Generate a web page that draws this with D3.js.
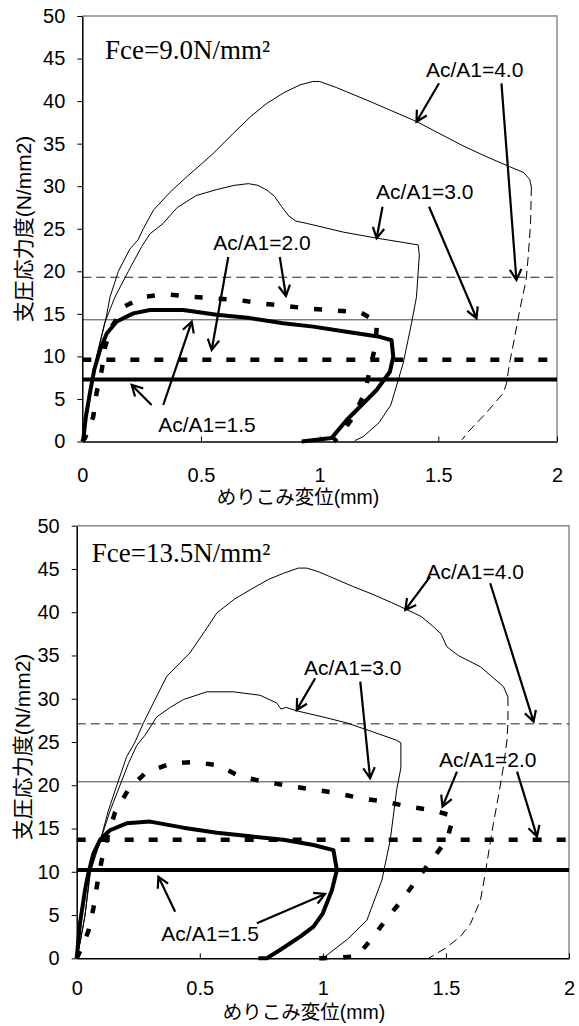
<!DOCTYPE html>
<html><head><meta charset="utf-8">
<script src="https://cdn.jsdelivr.net/npm/d3@7"></script>
<style>body{margin:0;background:#fff}</style>
</head><body>
<svg id="chart" width="579" height="1026"></svg>
<script>
// ---------- shared axis ticks ----------
const xTicks = [0, 0.5, 1, 1.5, 2];
const xTickLabels = ["0", "0.5", "1", "1.5", "2"];
const yTicks = [0, 5, 10, 15, 20, 25, 30, 35, 40, 45, 50];
const xTitle = "めりこみ変位(mm)";
const yTitle = "支圧応力度(N/mm2)";
const ratios = ["Ac/A1=4.0", "Ac/A1=3.0", "Ac/A1=2.0", "Ac/A1=1.5"];

// ---------- Panel 1 : Fce = 9.0 N/mm2 ----------
const fce1 = "Fce=9.0N/mm²";
const p1_r40_load = [[0,0],[0.01,2],[0.03,5],[0.05,8],[0.07,11],[0.1,14.5],[0.117,17],[0.152,20],[0.2,22.6],[0.235,23.7],[0.257,25],[0.3,27.2],[0.37,29.3],[0.44,31.1],[0.55,33.8],[0.636,36.2],[0.71,38.2],[0.776,39.7],[0.85,41],[0.917,41.9],[0.97,42.3],[1.0,42.3],[1.07,41.6],[1.2,40.1],[1.3,38.9],[1.408,37.6],[1.6,34.8],[1.7,33.5],[1.8,32.3],[1.86,31.6],[1.885,30.8],[1.892,29.9]];
const p1_r40_unload = [[1.892,29.9],[1.889,26],[1.886,24.5],[1.878,21.5],[1.87,19],[1.843,15.45],[1.82,12],[1.8,9.2],[1.787,6.8],[1.773,5.66],[1.7,3.3],[1.62,0.96],[1.6,0.2]];
const p1_r30 = [[0,0],[0.01,1.5],[0.03,4.5],[0.06,10],[0.095,14],[0.138,17],[0.194,20],[0.25,22.9],[0.285,24.4],[0.34,25.6],[0.4,27.5],[0.48,28.9],[0.566,29.6],[0.64,30.1],[0.7,30.3],[0.74,30.1],[0.78,29.5],[0.81,28.8],[0.84,27.6],[0.87,26.5],[0.9,25.9],[0.95,25.6],[1.1,24.6],[1.24,23.9],[1.35,23.4],[1.415,23.1],[1.42,21.9],[1.408,17],[1.387,13.9],[1.352,9.2],[1.3,4.3],[1.25,2.2],[1.183,0.56],[1.148,0.1]];
const p1_r20 = [[0,0],[0.011,0.4],[0.046,2.9],[0.06,5.7],[0.082,8.4],[0.096,11.1],[0.124,13.5],[0.18,15.9],[0.257,17.0],[0.355,17.3],[0.46,17.0],[0.566,16.8],[0.664,16.6],[0.762,16.2],[0.86,15.9],[0.966,15.6],[1.064,15.4],[1.17,15.2],[1.242,14.1],[1.235,11.3],[1.211,8.4],[1.19,5.7],[1.141,2.9],[1.09,0.8],[1.06,0]];
const p1_r15 = [[0,0],[0.004,0.2],[0.015,2.9],[0.032,5.7],[0.05,8.4],[0.075,10.8],[0.103,12.7],[0.145,14.1],[0.215,15.06],[0.285,15.45],[0.425,15.45],[0.566,14.9],[0.706,14.5],[0.846,13.9],[0.973,13.5],[1.113,12.9],[1.253,12.3],[1.303,11.9],[1.31,9.96],[1.296,8.2],[1.24,6.05],[1.113,2.5],[1.05,0.4],[0.924,0]];
const p1_refs = [19.3, 14.3, 9.6, 7.3]; // 4.0, 3.0, 2.0, 1.5

// ---------- Panel 2 : Fce = 13.5 N/mm2 ----------
const fce2 = "Fce=13.5N/mm²";
const p2_r40_load = [[0,0],[0.015,2],[0.034,5],[0.054,10],[0.075,12],[0.095,13.5],[0.128,17],[0.163,20],[0.203,23.3],[0.237,25],[0.271,27.2],[0.32,30],[0.366,32.6],[0.46,35.3],[0.52,37.8],[0.569,39.9],[0.64,41.5],[0.705,42.6],[0.78,43.8],[0.84,44.5],[0.9,45.1],[0.935,45.1],[0.98,44.7],[1.03,44.1],[1.12,43],[1.2,42.1],[1.28,41.1],[1.341,40.3],[1.4,39.5],[1.45,38.3],[1.48,37.5],[1.504,36.0],[1.55,35],[1.64,33.7],[1.734,31.4],[1.752,30.2]];
const p2_r40_unload = [[1.752,30.2],[1.752,27.2],[1.748,25.2],[1.734,22.2],[1.715,19],[1.693,15.6],[1.675,12.5],[1.66,9.8],[1.64,6.7],[1.6,4],[1.558,2.5],[1.5,1.2],[1.463,0.58],[1.43,0]];
const p2_r30 = [[0,0],[0.015,2],[0.034,5],[0.056,10],[0.095,13.5],[0.135,17],[0.176,20],[0.21,22.5],[0.244,24.6],[0.278,25.8],[0.325,27.9],[0.38,29],[0.433,29.9],[0.528,30.8],[0.637,30.8],[0.745,30.4],[0.813,29.5],[0.83,28.8],[0.85,29.0],[0.894,28.6],[1.0,27.9],[1.098,27.2],[1.2,26.2],[1.3,25.2],[1.317,24.9],[1.317,22],[1.3,19.5],[1.274,13.7],[1.24,9.05],[1.179,4.4],[1.1,2.2],[1.0,0]];
const p2_r20 = [[0,0],[0.013,0.77],[0.047,3.1],[0.068,5.8],[0.084,8.7],[0.102,11.4],[0.125,14],[0.156,16.9],[0.21,19.5],[0.278,21.4],[0.379,22.5],[0.474,22.7],[0.576,22.3],[0.664,21.0],[0.765,20.4],[0.867,19.9],[0.962,19.5],[1.057,19.1],[1.152,18.5],[1.253,18.1],[1.355,17.5],[1.45,17.1],[1.531,16.4],[1.504,13.7],[1.443,11.4],[1.382,9.1],[1.321,6.7],[1.26,4.6],[1.2,2.3],[1.138,0.2],[1.0,0],[0.93,0]];
const p2_r15 = [[0,0],[0.013,4.0],[0.034,7.9],[0.047,9.8],[0.068,12.1],[0.095,13.7],[0.135,14.8],[0.203,15.6],[0.298,15.8],[0.433,15.1],[0.569,14.5],[0.705,14.1],[0.84,13.7],[0.962,13.1],[1.043,12.5],[1.057,10.2],[1.037,7.9],[1.0,5.2],[0.962,3.65],[0.908,2.5],[0.826,0.96],[0.772,0],[0.738,0]];
const p2_refs = [27.1, 20.4, 13.7, 10.2];

// ---------- annotations (label centre + arrows, in data units) ----------
const p1_notes = [
  {label: 0, at: [1.653, 43.77], arrows: [[[1.503,42.09],[1.408,37.58]], [[1.766,42.09],[1.829,18.98]]]},
  {label: 1, at: [1.443, 29.32], arrows: [[[1.265,27.59],[1.240,23.88]], [[1.461,27.59],[1.661,14.48]]]},
  {label: 2, at: [0.757, 23.44], arrows: [[[0.832,21.68],[0.858,17.10]], [[0.615,21.68],[0.545,10.75]]]},
  {label: 3, at: [0.525, 1.94],  arrows: [[[0.341,4.29],[0.461,14.08]], [[0.292,4.29],[0.208,6.64]]]}
];
const p2_notes = [
  {label: 0, at: [1.619, 44.66], arrows: [[[1.436,44.12],[1.335,40.27]], [[1.680,43.35],[1.856,27.35]]]},
  {label: 1, at: [1.121, 33.56], arrows: [[[0.969,32.37],[0.894,28.71]], [[1.152,31.98],[1.192,20.81]]]},
  {label: 2, at: [1.670, 22.92], arrows: [[[1.545,21.57],[1.486,17.53]], [[1.789,21.57],[1.870,14.06]]]},
  {label: 3, at: [0.542, 2.92],  arrows: [[[0.400,5.39],[0.332,9.43]], [[0.732,4.05],[1.009,7.43]]]}
];

const svg = d3.select("#chart");
const sansFont = "'Liberation Sans', Arial, 'Noto Sans CJK JP', sans-serif";

function drawPanel(box, d) {
  const x = d3.scaleLinear().domain([0, 2]).range([box.left, box.right]);
  const y = d3.scaleLinear().domain([0, 50]).range([box.bottom, box.top]);
  const g = svg.append("g");
  const line = d3.line().x(p => x(p[0])).y(p => y(p[1]));

  // frame (top/right grey)
  g.append("path").attr("d", `M${x(0)},${y(50)}H${x(2)}V${y(0)}`)
    .attr("fill", "none").attr("stroke", "#8c8c8c").attr("stroke-width", 1.5);

  // horizontal reference lines
  const refStyles = [
    {w: 1, dash: "9,5", c: "#222"},
    {w: 1, dash: null, c: "#444"},
    {w: 4.5, dash: "9,15", c: "#000"},
    {w: 4, dash: null, c: "#000"}
  ];
  d.refs.forEach((v, i) => {
    const s = refStyles[i];
    g.append("line").attr("x1", x(0)).attr("x2", x(2)).attr("y1", y(v)).attr("y2", y(v))
      .attr("stroke", s.c).attr("stroke-width", s.w).attr("stroke-dasharray", s.dash);
  });

  // curves
  const curves = [
    {data: d.r40l, w: 1, dash: null},
    {data: d.r40u, w: 1, dash: "9,5"},
    {data: d.r30, w: 1, dash: null},
    {data: d.r20, w: 4.5, dash: "8,16"},
    {data: d.r15, w: 4, dash: null}
  ];
  curves.forEach(c => {
    g.append("path").attr("d", line(c.data)).attr("fill", "none")
      .attr("stroke", "#000").attr("stroke-width", c.w)
      .attr("stroke-linejoin", "round")
      .attr("stroke-dasharray", c.dash);
  });

  // axes
  const ya = g.append("g").attr("transform", `translate(${x(0)},0)`)
    .call(d3.axisLeft(y).tickValues(yTicks).tickSizeInner(5).tickSizeOuter(0).tickPadding(12));
  ya.select(".domain").attr("stroke", "#000").attr("stroke-width", 1.5);
  ya.selectAll("text").attr("font-family", sansFont).attr("font-size", 20).attr("fill", "#000");

  const xa = g.append("g").attr("transform", `translate(0,${y(0)})`)
    .call(d3.axisBottom(x).tickValues(xTicks).tickFormat((v, i) => xTickLabels[i])
      .tickSizeInner(-5).tickSizeOuter(0).tickPadding(box.tpad));
  xa.select(".domain").attr("stroke", "#000").attr("stroke-width", 1.5);
  xa.selectAll("text").attr("font-family", sansFont).attr("font-size", 20).attr("fill", "#000");

  // axis titles
  g.append("text").attr("x", box.xtx).attr("y", box.xty)
    .attr("text-anchor", "middle").attr("font-family", sansFont).attr("font-size", 19.5)
    .text(xTitle);
  g.append("text").attr("transform", `translate(${box.ytx},${box.yty}) rotate(-90)`)
    .attr("text-anchor", "middle").attr("dominant-baseline", "central")
    .attr("font-family", sansFont).attr("font-size", 21)
    .text(yTitle);

  // Fce label
  g.append("text").attr("x", x(d.fceAt[0])).attr("y", y(d.fceAt[1]))
    .attr("dominant-baseline", "central")
    .attr("font-family", "'Liberation Serif', 'Times New Roman', serif").attr("font-size", 27)
    .text(d.fce);

  // annotations
  d.notes.forEach(n => {
    g.append("text").attr("x", x(n.at[0])).attr("y", y(n.at[1]))
      .attr("text-anchor", "middle").attr("dominant-baseline", "central")
      .attr("font-family", sansFont).attr("font-size", 21)
      .text(ratios[n.label]);
    n.arrows.forEach(a => {
      const x1 = x(a[0][0]), y1 = y(a[0][1]), x2 = x(a[1][0]), y2 = y(a[1][1]);
      const ang = Math.atan2(y2 - y1, x2 - x1);
      const L = 12, sp = 0.5;
      const hx1 = x2 - L * Math.cos(ang - sp), hy1 = y2 - L * Math.sin(ang - sp);
      const hx2 = x2 - L * Math.cos(ang + sp), hy2 = y2 - L * Math.sin(ang + sp);
      g.append("path")
        .attr("d", `M${x1},${y1}L${x2},${y2}M${hx1},${hy1}L${x2},${y2}L${hx2},${hy2}`)
        .attr("fill", "none").attr("stroke", "#000").attr("stroke-width", 2.2)
        .attr("stroke-linejoin", "miter");
    });
  });
}

drawPanel({left: 82.3, right: 557, top: 16, bottom: 441.5, tpad: 26, xtx: 298, xty: 504, ytx: 23, yty: 229},
  {r40l: p1_r40_load, r40u: p1_r40_unload, r30: p1_r30, r20: p1_r20, r15: p1_r15,
   refs: p1_refs, notes: p1_notes, fce: fce1, fceAt: [0.096, 46.0]});
drawPanel({left: 76.7, right: 569, top: 525.7, bottom: 958.3, tpad: 23, xtx: 304, xty: 1019, ytx: 22, yty: 747},
  {r40l: p2_r40_load, r40u: p2_r40_unload, r30: p2_r30, r20: p2_r20, r15: p2_r15,
   refs: p2_refs, notes: p2_notes, fce: fce2, fceAt: [0.061, 46.8]});
</script>
</body></html>
